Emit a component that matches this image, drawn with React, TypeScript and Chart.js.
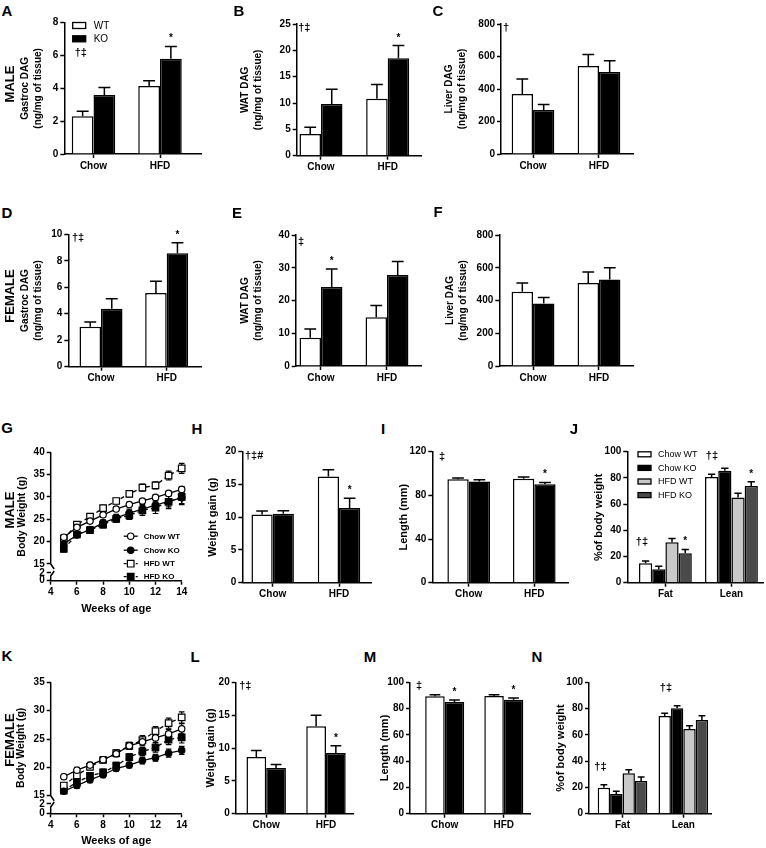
import React, { useEffect, useRef } from 'react';
import { Chart, registerables } from 'chart.js';
Chart.register(...registerables);

const FONT = "'Liberation Sans', Arial, Helvetica, sans-serif";
Chart.defaults.font.family = FONT;
Chart.defaults.color = '#000';

// ---------------- DATA ----------------
const dietCats = ['Chow', 'HFD'];
const compCats = ['Fat', 'Lean'];
const weeks = [5, 6, 7, 8, 9, 10, 11, 12, 13, 14];

// A male gastroc DAG
const aWT = [2.3, 4.15];
const aWTErr = [0.3, 0.32];
const aKO = [3.6, 5.8];
const aKOErr = [0.45, 0.75];
// B male WAT DAG
const bWT = [4.1, 10.8];
const bWTErr = [1.3, 2.7];
const bKO = [9.8, 18.5];
const bKOErr = [2.8, 2.4];
// C male liver DAG
const cWT = [369, 541];
const cWTErr = [92, 72];
const cKO = [271, 505];
const cKOErr = [33, 69];
// D female gastroc DAG
const dWT = [3.02, 5.57];
const dWTErr = [0.36, 0.88];
const dKO = [4.38, 8.56];
const dKOErr = [0.76, 0.81];
// E female WAT DAG
const eWT = [8.65, 14.85];
const eWTErr = [2.65, 3.65];
const eKO = [24.1, 27.8];
const eKOErr = [5.5, 4.1];
// F female liver DAG
const fWT = [454, 507];
const fWTErr = [53, 67];
const fKO = [381, 529];
const fKOErr = [38, 71];
// G male body weight
const gChowWT = [21.0, 23.2, 24.6, 26.0, 27.3, 28.3, 29.1, 29.9, 30.8, 31.7];
const gChowWTErr = [0.5, 0.4, 0.5, 0.5, 0.5, 0.5, 0.5, 0.5, 0.5, 0.6];
const gChowKO = [19.5, 21.5, 22.7, 24.2, 25.3, 26.4, 27.3, 28.2, 29.0, 29.8];
const gChowKOErr = [0.6, 0.6, 0.6, 0.7, 0.8, 0.9, 1.0, 1.1, 1.2, 1.3];
const gHfdWT = [20.7, 23.8, 25.6, 27.5, 29.1, 30.7, 32.1, 32.6, 34.8, 36.4];
const gHfdWTErr = [0.5, 0.5, 0.6, 0.6, 0.6, 0.7, 0.8, 0.8, 1.0, 1.1];
const gHfdKO = [18.4, 21.6, 22.6, 23.8, 25.1, 25.9, 27.0, 27.6, 28.9, 30.0];
const gHfdKOErr = [0.7, 0.6, 0.6, 0.7, 0.8, 0.9, 1.1, 1.3, 1.5, 1.7];
const gTickLabels = ['0', '2', '15', '20', '25', '30', '35', '40'];
// H male weight gain
const hWT = [10.43, 16.2];
const hWTErr = [0.5, 1.05];
const hKO = [10.53, 11.4];
const hKOErr = [0.47, 1.5];
// I male length
const iWT = [94.7, 95.3];
const iWTErr = [1.2, 1.5];
const iKO = [92.8, 90.1];
const iKOErr = [1.6, 1.8];
// J male body composition
const jChowWT = [14.8, 80.7];
const jChowWTErr = [1.7, 2.0];
const jChowKO = [10.2, 85.5];
const jChowKOErr = [2.3, 1.8];
const jHfdWT = [30.8, 65.1];
const jHfdWTErr = [3.0, 3.1];
const jHfdKO = [22.4, 73.8];
const jHfdKOErr = [3.0, 3.3];
// K female body weight
const kChowWT = [18.35, 19.5, 20.4, 21.35, 22.4, 23.8, 24.5, 25.2, 25.9, 26.8];
const kChowWTErr = [0.4, 0.5, 0.5, 0.5, 0.5, 0.6, 0.7, 0.8, 0.8, 0.9];
const kChowKO = [15.8, 16.8, 17.8, 18.7, 19.8, 20.4, 21.2, 21.7, 22.5, 23.0];
const kChowKOErr = [0.4, 0.5, 0.5, 0.5, 0.5, 0.5, 0.6, 0.6, 0.7, 0.7];
const kHfdWT = [16.8, 18.6, 20.1, 21.3, 22.5, 23.8, 24.8, 26.4, 27.8, 28.8];
const kHfdWTErr = [0.5, 0.5, 0.5, 0.5, 0.6, 0.6, 0.8, 0.8, 0.9, 1.0];
const kHfdKO = [15.9, 17.4, 18.5, 19.1, 20.3, 21.8, 22.8, 23.5, 24.9, 25.3];
const kHfdKOErr = [0.5, 0.5, 0.5, 0.6, 0.6, 0.6, 0.7, 0.8, 0.9, 1.0];
const kTickLabels = ['0', '2', '15', '20', '25', '30', '35'];
// L female weight gain
const lWT = [8.63, 13.3];
const lWTErr = [1.0, 1.7];
const lKO = [6.95, 9.24];
const lKOErr = [0.55, 1.12];
// M female length
const mWT = [89.3, 89.6];
const mWTErr = [1.3, 1.0];
const mKO = [85.0, 86.8];
const mKOErr = [1.5, 1.3];
// N female body composition
const nChowWT = [19.8, 74.4];
const nChowWTErr = [2.3, 2.0];
const nChowKO = [15.0, 80.2];
const nChowKOErr = [2.0, 2.0];
const nHfdWT = [30.7, 64.5];
const nHfdWTErr = [2.8, 2.5];
const nHfdKO = [24.9, 71.3];
const nHfdKOErr = [3.0, 3.3];

// ---------------- STYLES ----------------
const WHITE = '#ffffff';
const BLACK = '#000000';
const LIGHT = '#c9c9c9';
const DARK = '#4a4a4a';

type Series = { label: string; values: number[]; errors: number[]; fill: string };
type Legend = { dx: number; dy: number; gap: number; boxW: number; boxH: number; textDx: number; size: number; bold: boolean };
type BarCfg = {
  id: string;
  area: [number, number, number, number];
  xRange: [number, number];
  groupPct: number;
  cats: string[];
  yMax: number;
  yStep: number;
  series: Series[];
  title: string[];
  titleX: number;
  titleSize: number;
  daggers: { text: string; x: number; y: number }[];
  stars: { ds: number; idx: number }[];
  legend?: Legend;
};

const wtko = (v1: number[], e1: number[], v2: number[], e2: number[]): Series[] => [
  { label: 'WT', values: v1, errors: e1, fill: WHITE },
  { label: 'KO', values: v2, errors: e2, fill: BLACK },
];
const four = (a: number[], ae: number[], b: number[], be: number[], c: number[], ce: number[], d: number[], de: number[]): Series[] => [
  { label: 'Chow WT', values: a, errors: ae, fill: WHITE },
  { label: 'Chow KO', values: b, errors: be, fill: BLACK },
  { label: 'HFD WT', values: c, errors: ce, fill: LIGHT },
  { label: 'HFD KO', values: d, errors: de, fill: DARK },
];

const DAG_TITLE = '(ng/mg of tissue)';

const barPanels: BarCfg[] = [
  { id: 'A', area: [64.3, 22.7, 201.7, 154], xRange: [0.561, 2.627], groupPct: 0.654, cats: dietCats, yMax: 8, yStep: 2,
    series: wtko(aWT, aWTErr, aKO, aKOErr), title: ['Gastroc DAG', DAG_TITLE], titleX: 25, titleSize: 10,
    daggers: [{ text: '†‡', x: 0.81, y: 6.15 }], stars: [{ ds: 1, idx: 1 }],
    legend: { dx: 8.4, dy: 2.8, gap: 13.3, boxW: 13, boxH: 6, textDx: 21, size: 10, bold: false } },
  { id: 'B', area: [296.7, 24, 421.7, 155.7], xRange: [0.636, 2.51], groupPct: 0.645, cats: dietCats, yMax: 25, yStep: 5,
    series: wtko(bWT, bWTErr, bKO, bKOErr), title: ['WAT DAG', DAG_TITLE], titleX: 245, titleSize: 10,
    daggers: [{ text: '†‡', x: 0.75, y: 24.3 }], stars: [{ ds: 1, idx: 1 }] },
  { id: 'C', area: [501, 24, 633.3, 154], xRange: [0.515, 2.52], groupPct: 0.647, cats: dietCats, yMax: 800, yStep: 200,
    series: wtko(cWT, cWTErr, cKO, cKOErr), title: ['Liver DAG', DAG_TITLE], titleX: 449, titleSize: 10,
    daggers: [{ text: '†', x: 0.59, y: 775 }], stars: [] },
  { id: 'D', area: [68.3, 234.3, 201.7, 366.7], xRange: [0.502, 2.533], groupPct: 0.655, cats: dietCats, yMax: 10, yStep: 2,
    series: wtko(dWT, dWTErr, dKO, dKOErr), title: ['Gastroc DAG', DAG_TITLE], titleX: 25, titleSize: 10,
    daggers: [{ text: '†‡', x: 0.65, y: 9.7 }], stars: [{ ds: 1, idx: 1 }] },
  { id: 'E', area: [295.7, 235, 421.7, 366], xRange: [0.617, 2.526], groupPct: 0.65, cats: dietCats, yMax: 40, yStep: 10,
    series: wtko(eWT, eWTErr, eKO, eKOErr), title: ['WAT DAG', DAG_TITLE], titleX: 245, titleSize: 10,
    daggers: [{ text: '‡', x: 0.70, y: 37.8 }], stars: [{ ds: 1, idx: 0 }] },
  { id: 'F', area: [499.3, 235, 633.3, 366], xRange: [0.489, 2.52], groupPct: 0.65, cats: dietCats, yMax: 800, yStep: 200,
    series: wtko(fWT, fWTErr, fKO, fKOErr), title: ['Liver DAG', DAG_TITLE], titleX: 450, titleSize: 10,
    daggers: [], stars: [] },
  { id: 'H', area: [242.3, 451.7, 371.7, 582.7], xRange: [0.542, 2.493], groupPct: 0.64, cats: dietCats, yMax: 20, yStep: 5,
    series: wtko(hWT, hWTErr, hKO, hKOErr), title: ['Weight gain (g)'], titleX: 213.3, titleSize: 11,
    daggers: [{ text: '†‡#', x: 0.72, y: 19.3 }], stars: [{ ds: 1, idx: 1 }] },
  { id: 'I', area: [432.3, 451.7, 568, 582.7], xRange: [0.445, 2.514], groupPct: 0.65, cats: dietCats, yMax: 120, yStep: 40,
    series: wtko(iWT, iWTErr, iKO, iKOErr), title: ['Length (mm)'], titleX: 404, titleSize: 11,
    daggers: [{ text: '‡', x: 0.593, y: 115 }], stars: [{ ds: 1, idx: 1 }] },
  { id: 'J', area: [627.3, 451.7, 763, 582.7], xRange: [0.423, 2.478], groupPct: 0.80, cats: compCats, yMax: 100, yStep: 20,
    series: four(jChowWT, jChowWTErr, jChowKO, jChowKOErr, jHfdWT, jHfdWTErr, jHfdKO, jHfdKOErr), title: ['%of body weight'], titleX: 599.3, titleSize: 11,
    daggers: [{ text: '†‡', x: 0.644, y: 31.3 }, { text: '†‡', x: 1.704, y: 96.7 }], stars: [{ ds: 3, idx: 0 }, { ds: 3, idx: 1 }],
    legend: { dx: 10.7, dy: 2.6, gap: 13.6, boxW: 13, boxH: 5, textDx: 20, size: 9, bold: false } },
  { id: 'L', area: [235.7, 682.3, 353.3, 813.7], xRange: [0.49, 2.457], groupPct: 0.66, cats: dietCats, yMax: 20, yStep: 5,
    series: wtko(lWT, lWTErr, lKO, lKOErr), title: ['Weight gain (g)'], titleX: 210.7, titleSize: 11,
    daggers: [{ text: '†‡', x: 0.65, y: 19.4 }], stars: [{ ds: 1, idx: 1 }] },
  { id: 'M', area: [410, 682.3, 530, 813.7], xRange: [0.413, 2.443], groupPct: 0.66, cats: dietCats, yMax: 100, yStep: 20,
    series: wtko(mWT, mWTErr, mKO, mKOErr), title: ['Length (mm)'], titleX: 385, titleSize: 11,
    daggers: [{ text: '‡', x: 0.565, y: 97.5 }], stars: [{ ds: 1, idx: 0 }, { ds: 1, idx: 1 }] },
  { id: 'N', area: [589, 682.3, 711.7, 813.7], xRange: [0.449, 2.467], groupPct: 0.816, cats: compCats, yMax: 100, yStep: 20,
    series: four(nChowWT, nChowWTErr, nChowKO, nChowKOErr, nHfdWT, nHfdWTErr, nHfdKO, nHfdKOErr), title: ['%of body weight'], titleX: 561, titleSize: 11,
    daggers: [{ text: '†‡', x: 0.638, y: 35.8 }, { text: '†‡', x: 1.715, y: 95.7 }], stars: [] },
];

type LineSeries = { label: string; values: number[]; errors: number[]; filled: boolean; square: boolean; dashed: boolean };
type LineCfg = {
  id: string;
  area: [number, number, number, number];
  yMax: number;
  tickValues: number[];
  tickLabels: string[];
  series: LineSeries[];
  titleX: number;
  xTitleY: number;
  legend: boolean;
};

const lineSeries = (a: number[], ae: number[], b: number[], be: number[], c: number[], ce: number[], d: number[], de: number[]): LineSeries[] => [
  { label: 'Chow WT', values: a, errors: ae, filled: false, square: false, dashed: false },
  { label: 'Chow KO', values: b, errors: be, filled: true, square: false, dashed: false },
  { label: 'HFD WT', values: c, errors: ce, filled: false, square: true, dashed: true },
  { label: 'HFD KO', values: d, errors: de, filled: true, square: true, dashed: true },
];

const linePanels: LineCfg[] = [
  { id: 'G', area: [50.7, 452.3, 181.7, 580.7], yMax: 40, tickValues: [11.26, 12.99, 15, 20, 25, 30, 35, 40], tickLabels: gTickLabels,
    series: lineSeries(gChowWT, gChowWTErr, gChowKO, gChowKOErr, gHfdWT, gHfdWTErr, gHfdKO, gHfdKOErr), titleX: 21.7, xTitleY: 609.3, legend: true },
  { id: 'K', area: [50.7, 682.3, 181.7, 813.3], yMax: 35, tickValues: [11.9, 13.54, 15, 20, 25, 30, 35], tickLabels: kTickLabels,
    series: lineSeries(kChowWT, kChowWTErr, kChowKO, kChowKOErr, kHfdWT, kHfdWTErr, kHfdKO, kHfdKOErr), titleX: 21, xTitleY: 840.7, legend: false },
];

const tickFont = { family: FONT, size: 10, weight: 'bold' as const };
const gridTicks = { display: true, drawOnChartArea: false, drawTicks: true, tickLength: 4, tickWidth: 1.5, tickColor: BLACK, color: BLACK, offset: false };
const axisBorder = { display: true, color: BLACK, width: 1.5 };

function barExtras(cfg: BarCfg) {
  return {
    id: 'barExtras' + cfg.id,
    afterDatasetsDraw(chart: any) {
      const ctx = chart.ctx;
      const ys = chart.scales.y;
      const xs = chart.scales.x;
      ctx.save();
      ctx.strokeStyle = BLACK;
      ctx.lineWidth = 1.5;
      const caps: number[][] = [];
      cfg.series.forEach((s, di) => {
        const meta = chart.getDatasetMeta(di);
        caps[di] = [];
        meta.data.forEach((bar: any, i: number) => {
          const yTop = ys.getPixelForValue(s.values[i] + s.errors[i]);
          caps[di][i] = yTop;
          const w = bar.width * 0.55;
          ctx.beginPath();
          ctx.moveTo(bar.x, bar.y);
          ctx.lineTo(bar.x, yTop);
          ctx.moveTo(bar.x - w / 2, yTop);
          ctx.lineTo(bar.x + w / 2, yTop);
          ctx.stroke();
        });
      });
      ctx.fillStyle = BLACK;
      ctx.textAlign = 'center';
      ctx.textBaseline = 'alphabetic';
      ctx.font = `bold 10px ${FONT}`;
      cfg.stars.forEach((st) => {
        const bar = chart.getDatasetMeta(st.ds).data[st.idx];
        ctx.fillText('*', bar.x, caps[st.ds][st.idx] - 5);
      });
      ctx.textBaseline = 'middle';
      ctx.font = `bold 11px ${FONT}`;
      cfg.daggers.forEach((d) => {
        ctx.fillText(d.text, xs.getPixelForValue(d.x), ys.getPixelForValue(d.y));
      });
      if (cfg.legend) {
        const lg = cfg.legend;
        const area = chart.chartArea;
        ctx.font = `${lg.bold ? 'bold ' : ''}${lg.size}px ${FONT}`;
        ctx.textAlign = 'left';
        cfg.series.forEach((s, i) => {
          const bx = area.left + lg.dx;
          const by = area.top + lg.dy + i * lg.gap;
          ctx.fillStyle = s.fill;
          ctx.fillRect(bx, by - lg.boxH / 2, lg.boxW, lg.boxH);
          ctx.lineWidth = 1.3;
          ctx.strokeRect(bx, by - lg.boxH / 2, lg.boxW, lg.boxH);
          ctx.fillStyle = BLACK;
          ctx.fillText(s.label, bx + lg.textDx, by + 0.5);
        });
      }
      ctx.restore();
    },
  };
}

function BarPanel({ cfg }: { cfg: BarCfg }) {
  const ref = useRef<HTMLCanvasElement>(null);
  const [l, t, r, b] = cfg.area;
  const canvasLeft = Math.round(cfg.titleX - 10);
  const canvasTop = Math.round(t - 16);
  const canvasRight = Math.min(766, Math.round(r + 6));
  const canvasBottom = Math.round(b + 24);
  const W = canvasRight - canvasLeft;
  const H = canvasBottom - canvasTop;
  const padL = l - canvasLeft;
  const padT = t - canvasTop;
  const padR = canvasRight - r;
  const padB = canvasBottom - b;
  const titleLH = 13;
  useEffect(() => {
    const chart = new Chart(ref.current as HTMLCanvasElement, {
      type: 'bar',
      data: {
        datasets: cfg.series.map((s) => ({
          label: s.label,
          data: s.values.map((v, i) => ({ x: i + 1, y: v })),
          backgroundColor: s.fill,
          borderColor: BLACK,
          borderWidth: 1.5,
          categoryPercentage: cfg.groupPct,
          barPercentage: 1,
        })),
      },
      options: {
        animation: false,
        responsive: false,
        devicePixelRatio: 1,
        events: [],
        layout: { padding: { left: 0, top: padT, right: padR, bottom: 0 } },
        plugins: { legend: { display: false }, tooltip: { enabled: false } },
        scales: {
          x: {
            type: 'linear',
            min: cfg.xRange[0],
            max: cfg.xRange[1],
            bounds: 'data',
            offset: false,
            afterBuildTicks: (s: any) => {
              s.ticks = cfg.cats.map((_c, i) => ({ value: i + 1 }));
            },
            afterFit: (s: any) => {
              s.height = padB;
            },
            ticks: { callback: (_v: any, i: number) => cfg.cats[i], font: tickFont, color: BLACK, padding: 2, maxRotation: 0, autoSkip: false },
            grid: gridTicks,
            border: axisBorder,
          },
          y: {
            type: 'linear',
            min: 0,
            max: cfg.yMax,
            ticks: { stepSize: cfg.yStep, font: tickFont, color: BLACK, padding: 2 },
            grid: gridTicks,
            border: axisBorder,
            afterFit: (s: any) => {
              s.width = padL;
            },
            title: {
              display: true,
              text: cfg.title,
              color: BLACK,
              font: { family: FONT, size: cfg.titleSize, weight: 'bold', lineHeight: titleLH / cfg.titleSize },
              padding: { top: cfg.titleX - canvasLeft - titleLH / 2, bottom: 0 },
            },
          },
        },
      } as any,
      plugins: [barExtras(cfg)],
    });
    return () => chart.destroy();
  }, []);
  return <canvas ref={ref} width={W} height={H} style={{ position: 'absolute', left: canvasLeft, top: canvasTop, width: W, height: H }} />;
}

function drawMarker(ctx: CanvasRenderingContext2D, x: number, y: number, s: LineSeries) {
  ctx.beginPath();
  if (s.square) {
    ctx.rect(x - 3.3, y - 3.3, 6.6, 6.6);
  } else {
    ctx.arc(x, y, 3.2, 0, Math.PI * 2);
  }
  ctx.fillStyle = s.filled ? BLACK : WHITE;
  ctx.fill();
  ctx.setLineDash([]);
  ctx.lineWidth = 1.2;
  ctx.strokeStyle = BLACK;
  ctx.stroke();
}

function lineExtras(cfg: LineCfg) {
  return {
    id: 'lineExtras' + cfg.id,
    beforeDatasetsDraw(chart: any) {
      const ctx = chart.ctx;
      const ys = chart.scales.y;
      ctx.save();
      ctx.strokeStyle = BLACK;
      ctx.lineWidth = 1.2;
      cfg.series.forEach((s, di) => {
        const meta = chart.getDatasetMeta(di);
        meta.data.forEach((pt: any, i: number) => {
          const y1 = ys.getPixelForValue(s.values[i] + s.errors[i]);
          const y2 = ys.getPixelForValue(s.values[i] - s.errors[i]);
          ctx.beginPath();
          ctx.moveTo(pt.x, y1);
          ctx.lineTo(pt.x, y2);
          ctx.moveTo(pt.x - 2.8, y1);
          ctx.lineTo(pt.x + 2.8, y1);
          ctx.moveTo(pt.x - 2.8, y2);
          ctx.lineTo(pt.x + 2.8, y2);
          ctx.stroke();
        });
      });
      ctx.restore();
    },
    afterDraw(chart: any) {
      const ctx = chart.ctx;
      const ys = chart.scales.y;
      const area = chart.chartArea;
      const x = area.left;
      const y15 = ys.getPixelForValue(15);
      const y2 = ys.getPixelForValue(cfg.tickValues[1]);
      ctx.save();
      ctx.strokeStyle = BLACK;
      ctx.lineWidth = 1.5;
      ctx.beginPath();
      ctx.moveTo(x, area.top);
      ctx.lineTo(x, y15);
      ctx.lineTo(x + 3.5, y15 + 5);
      ctx.moveTo(x, area.bottom);
      ctx.lineTo(x, y2 + 3);
      ctx.lineTo(x + 3.5, y2 - 2);
      ctx.stroke();
      if (cfg.legend) {
        ctx.font = `bold 8px ${FONT}`;
        ctx.textAlign = 'left';
        ctx.textBaseline = 'middle';
        const rows = [44.5, 30.5, 17, 4];
        cfg.series.forEach((s, i) => {
          const lx = area.left + 73;
          const ly = area.bottom - rows[i];
          ctx.lineWidth = 1.3;
          ctx.strokeStyle = BLACK;
          ctx.setLineDash(s.dashed ? [3, 3] : []);
          ctx.beginPath();
          ctx.moveTo(lx, ly);
          ctx.lineTo(lx + 14, ly);
          ctx.stroke();
          drawMarker(ctx, lx + 7, ly, s);
          ctx.fillStyle = BLACK;
          ctx.fillText(s.label, lx + 20, ly + 0.5);
        });
      }
      ctx.restore();
    },
  };
}

function LinePanel({ cfg }: { cfg: LineCfg }) {
  const ref = useRef<HTMLCanvasElement>(null);
  const [l, t, r, b] = cfg.area;
  const canvasLeft = Math.round(cfg.titleX - 10);
  const canvasTop = Math.round(t - 12);
  const canvasRight = Math.round(r + 10);
  const canvasBottom = Math.round(cfg.xTitleY + 10);
  const W = canvasRight - canvasLeft;
  const H = canvasBottom - canvasTop;
  const padL = l - canvasLeft;
  const padT = t - canvasTop;
  const padR = canvasRight - r;
  const padB = canvasBottom - b;
  const titleLH = 13;
  useEffect(() => {
    const chart = new Chart(ref.current as HTMLCanvasElement, {
      type: 'line',
      data: {
        datasets: cfg.series.map((s) => ({
          label: s.label,
          data: weeks.map((w, i) => ({ x: w, y: s.values[i] })),
          borderColor: BLACK,
          borderWidth: 1.3,
          borderDash: s.dashed ? [4, 3] : [],
          pointStyle: s.square ? 'rect' : 'circle',
          pointRadius: s.square ? 4.6 : 3.2,
          pointBackgroundColor: s.filled ? BLACK : WHITE,
          pointBorderColor: BLACK,
          pointBorderWidth: 1.2,
          tension: 0,
          fill: false,
          clip: false,
        })),
      },
      options: {
        animation: false,
        responsive: false,
        devicePixelRatio: 1,
        events: [],
        layout: { padding: { left: 0, top: padT, right: padR, bottom: 0 } },
        plugins: { legend: { display: false }, tooltip: { enabled: false } },
        scales: {
          x: {
            type: 'linear',
            min: 4,
            max: 14,
            bounds: 'data',
            ticks: { stepSize: 2, font: tickFont, color: BLACK, padding: 2, maxRotation: 0 },
            grid: gridTicks,
            border: axisBorder,
            afterFit: (s: any) => {
              s.height = padB;
            },
            title: {
              display: true,
              text: 'Weeks of age',
              color: BLACK,
              font: { family: FONT, size: 11, weight: 'bold', lineHeight: 1.2 },
              padding: { top: 0, bottom: canvasBottom - cfg.xTitleY - 6.6 },
            },
          },
          y: {
            type: 'linear',
            min: cfg.tickValues[0],
            max: cfg.yMax,
            bounds: 'data',
            afterBuildTicks: (s: any) => {
              s.ticks = cfg.tickValues.map((v) => ({ value: v }));
            },
            ticks: { callback: (_v: any, i: number) => cfg.tickLabels[i], font: tickFont, color: BLACK, padding: 2, autoSkip: false },
            grid: gridTicks,
            border: { display: false },
            afterFit: (s: any) => {
              s.width = padL;
            },
            title: {
              display: true,
              text: 'Body Weight (g)',
              color: BLACK,
              font: { family: FONT, size: 10.5, weight: 'bold', lineHeight: titleLH / 10.5 },
              padding: { top: cfg.titleX - canvasLeft - titleLH / 2, bottom: 0 },
            },
          },
        },
      } as any,
      plugins: [lineExtras(cfg)],
    });
    return () => chart.destroy();
  }, []);
  return <canvas ref={ref} width={W} height={H} style={{ position: 'absolute', left: canvasLeft, top: canvasTop, width: W, height: H }} />;
}

const panelLetters: [string, number, number][] = [
  ['A', 7, 10], ['B', 239, 10], ['C', 438, 10],
  ['D', 7, 212], ['E', 237, 212], ['F', 438, 211],
  ['G', 7, 427], ['H', 197, 428], ['I', 383, 428], ['J', 574, 428],
  ['K', 7, 655], ['L', 195, 656], ['M', 370, 656], ['N', 537, 656],
];

const sexLabels: [string, number, number][] = [
  ['MALE', 9, 84], ['FEMALE', 9, 296], ['MALE', 9, 510], ['FEMALE', 9, 740],
];

export default function App() {
  return (
    <div style={{ position: 'absolute', left: 0, top: 0, width: 766, height: 848, background: '#fff', overflow: 'hidden', fontFamily: FONT }}>
      {barPanels.map((p) => (
        <BarPanel key={p.id} cfg={p} />
      ))}
      {linePanels.map((p) => (
        <LinePanel key={p.id} cfg={p} />
      ))}
      {panelLetters.map(([ch, x, y]) => (
        <div key={ch} style={{ position: 'absolute', left: x, top: y, transform: 'translate(-50%, -50%)', fontWeight: 'bold', fontSize: 15, lineHeight: 1, color: '#000' }}>
          {ch}
        </div>
      ))}
      {sexLabels.map(([txt, x, y], i) => (
        <div key={i} style={{ position: 'absolute', left: x, top: y, transform: 'translate(-50%, -50%) rotate(-90deg)', fontWeight: 'bold', fontSize: 13, lineHeight: 1, whiteSpace: 'nowrap', color: '#000' }}>
          {txt}
        </div>
      ))}
    </div>
  );
}
